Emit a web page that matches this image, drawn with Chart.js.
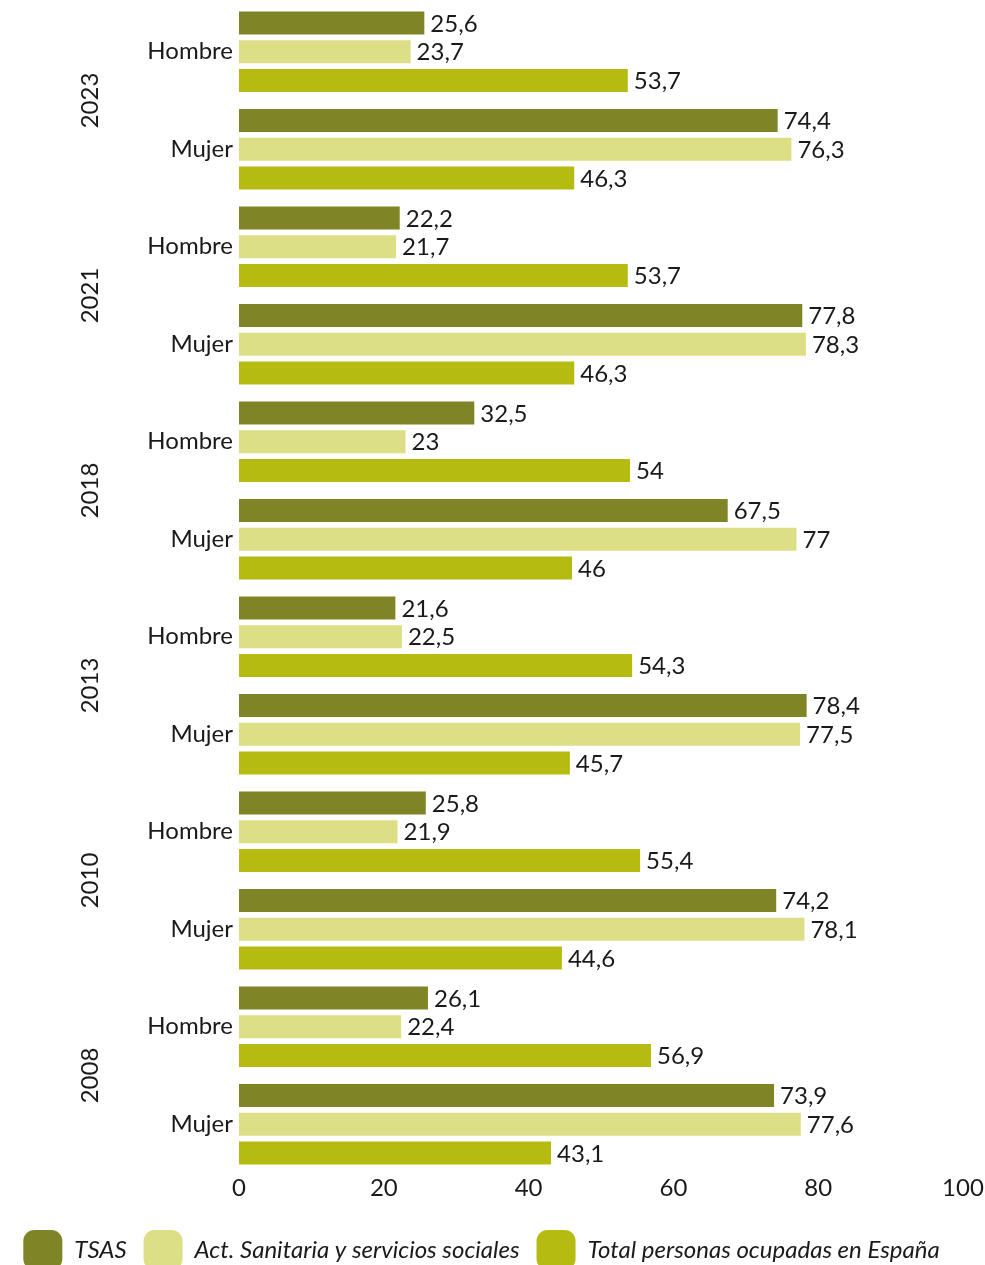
<!DOCTYPE html>
<html lang="es">
<head>
<meta charset="utf-8">
<title>Ocupados por sexo</title>
<script src="https://cdn.jsdelivr.net/npm/chart.js@4"></script>
<style>
  html, body { margin: 0; padding: 0; background: #fff; overflow: hidden; }
  #wrap { width: 985px; height: 1280px; }
</style>
</head>
<body>
<div id="wrap"><canvas id="grafico"></canvas></div>
<script>
// categorías: cada año tiene Hombre y Mujer
const years = ["2023", "2021", "2018", "2013", "2010", "2008"];
const sexos = ["Hombre", "Mujer", "Hombre", "Mujer", "Hombre", "Mujer",
               "Hombre", "Mujer", "Hombre", "Mujer", "Hombre", "Mujer"];

const tsas  = [25.6, 74.4, 22.2, 77.8, 32.5, 67.5, 21.6, 78.4, 25.8, 74.2, 26.1, 73.9];
const actSanitaria = [23.7, 76.3, 21.7, 78.3, 23, 77, 22.5, 77.5, 21.9, 78.1, 22.4, 77.6];
const totalEspana = [53.7, 46.3, 53.7, 46.3, 54, 46, 54.3, 45.7, 55.4, 44.6, 56.9, 43.1];

const xTicks = [0, 20, 40, 60, 80, 100];

const fuente = "Lato, 'Open Sans', sans-serif";
const negro = "#1a1a1a";

// etiquetas de valor al final de cada barra (coma decimal)
const valorPlugin = {
    id: "valores",
    afterDatasetsDraw(chart) {
        const ctx = chart.ctx;
        ctx.save();
        ctx.font = "24px " + fuente;
        ctx.fillStyle = negro;
        ctx.textAlign = "left";
        ctx.textBaseline = "middle";
        chart.data.datasets.forEach((ds, i) => {
            chart.getDatasetMeta(i).data.forEach((bar, j) => {
                const txt = String(ds.data[j]).replace(".", ",");
                ctx.fillText(txt, bar.x + 6, bar.y + 1);
            });
        });
        ctx.restore();
    }
};

// años en vertical a la izquierda de cada pareja Hombre/Mujer
const anyoPlugin = {
    id: "anyos",
    afterDraw(chart) {
        const ctx = chart.ctx;
        const y = chart.scales.y;
        ctx.save();
        ctx.font = "24px " + fuente;
        ctx.fillStyle = negro;
        ctx.textAlign = "center";
        ctx.textBaseline = "middle";
        years.forEach((yr, i) => {
            const py = (y.getPixelForValue(i * 2) + y.getPixelForValue(i * 2 + 1)) / 2;
            ctx.save();
            ctx.translate(90, py);
            ctx.rotate(-Math.PI / 2);
            ctx.fillText(yr, 0, 0);
            ctx.restore();
        });
        ctx.restore();
    }
};

new Chart("grafico", {
    type: "bar",
    data: {
        labels: sexos,
        datasets: [
            { label: "TSAS", data: tsas, backgroundColor: "#7f8526" },
            { label: "Act. Sanitaria y servicios sociales", data: actSanitaria, backgroundColor: "#dcdf85" },
            { label: "Total personas ocupadas en España", data: totalEspana, backgroundColor: "#b6bb11" }
        ]
    },
    options: {
        indexAxis: "y",
        responsive: true,
        maintainAspectRatio: false,
        animation: false,
        categoryPercentage: 0.884,
        barPercentage: 0.8,
        layout: { padding: { top: 3, right: 22, left: 0, bottom: 0 } },
        scales: {
            x: {
                min: 0,
                max: 100,
                afterBuildTicks(scale) {
                    scale.ticks = xTicks.map(v => ({ value: v }));
                },
                grid: { display: false, drawTicks: false },
                border: { display: false },
                ticks: {
                    color: negro,
                    padding: 1,
                    font: { family: fuente, size: 24 }
                },
                afterFit(scale) { scale.height = 40; }
            },
            y: {
                grid: { display: false, drawTicks: false },
                border: { display: false },
                ticks: {
                    color: negro,
                    padding: 6,
                    font: { family: fuente, size: 24 }
                },
                afterFit(scale) {
                    scale.width = 239;
                    scale.paddingTop = 0;
                    scale.paddingBottom = 0;
                }
            }
        },
        plugins: {
            tooltip: { enabled: false },
            legend: {
                position: "bottom",
                labels: {
                    color: negro,
                    boxWidth: 39,
                    boxHeight: 40,
                    useBorderRadius: true,
                    borderRadius: 11,
                    padding: 17,
                    font: { family: fuente, size: 24, style: "italic" }
                }
            }
        }
    },
    plugins: [valorPlugin, anyoPlugin]
});
</script>
</body>
</html>
